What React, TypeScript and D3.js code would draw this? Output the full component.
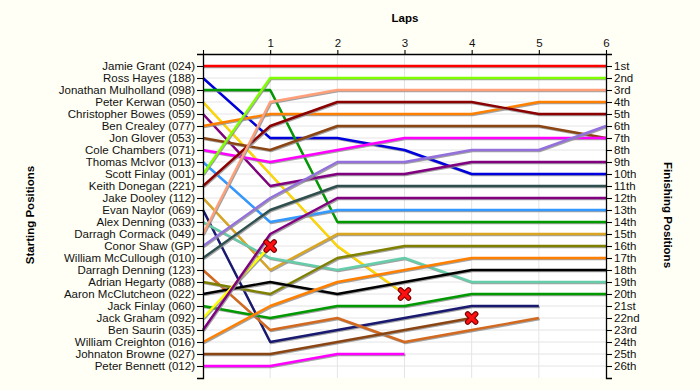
import React, { useEffect, useRef } from "react";
import * as d3 from "d3";

// lap chart: position of each driver at the end of each lap (lap 0 = grid)
const laps = [0, 1, 2, 3, 4, 5, 6];

const drivers = [
  "Jamie Grant (024)", "Ross Hayes (188)", "Jonathan Mulholland (098)", "Peter Kerwan (050)",
  "Christopher Bowes (059)", "Ben Crealey (077)", "Jon Glover (053)", "Cole Chambers (071)",
  "Thomas McIvor (013)", "Scott Finlay (001)", "Keith Donegan (221)", "Jake Dooley (112)",
  "Evan Naylor (069)", "Alex Denning (033)", "Darragh Cormack (049)", "Conor Shaw (GP)",
  "William McCullough (010)", "Darragh Denning (123)", "Adrian Hegarty (088)", "Aaron McClutcheon (022)",
  "Jack Finlay (060)", "Jack Graham (092)", "Ben Saurin (035)", "William Creighton (016)",
  "Johnaton Browne (027)", "Peter Bennett (012)",
];

const colors = [
  "#ff0000", "#0000dd", "#009900", "#ffd700",
  "#800080", "#ff8000", "#8b4513", "#ff00ff",
  "#3399ff", "#7fff00", "#8b0000", "#daa520",
  "#191970", "#66cdaa", "#ffa07a", "#9370db",
  "#2f4f4f", "#d2691e", "#808000", "#000000",
  "#009900", "#ffff00", "#800080", "#ff8000",
  "#8b4513", "#ff00ff",
];

const positions = [
  [1, 1, 1, 1, 1, 1, 1],
  [2, 7, 7, 8, 10, 10, 10],
  [3, 3, 14, 14, 14, 14, 14],
  [4, 10, 16, 20],
  [5, 11, 10, 10, 9, 9, 9],
  [6, 5, 5, 5, 5, 4, 4],
  [7, 8, 6, 6, 6, 6, 7],
  [8, 9, 8, 7, 7, 7, 7],
  [9, 14, 13, 13, 13, 13, 13],
  [10, 2, 2, 2, 2, 2, 2],
  [11, 6, 4, 4, 4, 5, 5],
  [12, 18, 15, 15, 15, 15, 15],
  [13, 24, 23, 22, 21, 21],
  [14, 17, 18, 17, 19, 19, 19],
  [15, 4, 3, 3, 3, 3, 3],
  [16, 12, 9, 9, 8, 8, 6],
  [17, 13, 11, 11, 11, 11, 11],
  [18, 23, 22, 24, 23, 22],
  [19, 20, 17, 16, 16, 16, 16],
  [20, 19, 20, 19, 18, 18, 18],
  [21, 22, 21, 21, 20, 20, 20],
  [22, 16],
  [23, 15, 12, 12, 12, 12, 12],
  [24, 21, 19, 18, 17, 17, 17],
  [25, 25, 24, 23, 22],
  [26, 26, 25, 25],
];

// drivers that retired (marked with a cross at their last lap)
const retired = ["Peter Kerwan (050)", "Jack Graham (092)", "Johnaton Browne (027)"];

const finishLabels = [
  "1st", "2nd", "3rd", "4th", "5th", "6th", "7th", "8th", "9th", "10th",
  "11th", "12th", "13th", "14th", "15th", "16th", "17th", "18th", "19th", "20th",
  "21st", "22nd", "23rd", "24th", "25th", "26th",
];

const W = 700;
const H = 390;
const font = "'Liberation Sans', Arial, sans-serif";

export default function App() {
  const topRef = useRef<SVGGElement>(null);
  const leftRef = useRef<SVGGElement>(null);
  const rightRef = useRef<SVGGElement>(null);

  const left = 203, right = 606, top = 54, bottom = 378;
  const x = d3.scaleLinear().domain([0, 6]).range([left, right]);
  const y = d3.scaleLinear().domain([0, 27]).range([top, bottom]);
  const ranks = d3.range(1, drivers.length + 1);

  const line = d3.line<number>()
    .x((d, i) => x(laps[i]))
    .y(d => y(d));

  useEffect(() => {
    const style = (g: d3.Selection<SVGGElement, unknown, null, undefined>) => {
      g.attr("font-family", font).attr("font-size", 11.5);
      g.selectAll("path.domain").attr("stroke", "#000").attr("stroke-width", 1.3);
      g.selectAll(".tick line").attr("stroke", "#000").attr("stroke-width", 1.1);
      g.selectAll(".tick text").attr("fill", "#111");
    };
    select(topRef.current!)
      .call(d3.axisTop(x).tickValues(laps).tickFormat(d => (d === 0 ? "" : String(d))).tickSize(4).tickSizeOuter(0))
      .call(style);
    select(leftRef.current!)
      .call(d3.axisLeft(y).tickValues(ranks).tickFormat(d => drivers[+d - 1]).tickSize(6).tickPadding(2))
      .call(style);
    select(rightRef.current!)
      .call(d3.axisRight(y).tickValues(ranks).tickFormat(d => finishLabels[+d - 1]).tickSize(6).tickPadding(2))
      .call(style);
  }, []);

  const cross = (cx: number, cy: number, key: string) => {
    const s = 4;
    const d = `M${cx - s},${cy - s}L${cx + s},${cy + s}M${cx - s},${cy + s}L${cx + s},${cy - s}`;
    return (
      <g key={key}>
        <path d={d} stroke="#7a0000" strokeWidth={5.5} strokeLinecap="round" />
        <path d={d} stroke="#ff1010" strokeWidth={3.2} strokeLinecap="round" />
      </g>
    );
  };

  return (
    <svg width={W} height={H} style={{ position: "fixed", left: 0, top: 0, background: "#fffff5" }}>
      <rect x={left} y={top} width={right - left} height={bottom - top} fill="#ffffff" />
      <g>
        {ranks.map(r => (
          <line key={"h" + r} x1={left} x2={right} y1={y(r)} y2={y(r)} stroke="#e4e4e4" strokeWidth={1} />
        ))}
        {laps.slice(1, -1).map(l => (
          <line key={"v" + l} x1={x(l)} x2={x(l)} y1={top} y2={bottom} stroke="#e4e4e4" strokeWidth={1} />
        ))}
      </g>
      <g fill="none" strokeLinejoin="round">
        {positions.map((p, i) => (
          <g key={drivers[i]}>
            <path d={line(p) ?? ""} stroke="#8c8c8c" strokeWidth={2} transform="translate(1,1.3)" opacity={0.8} />
            <path d={line(p) ?? ""} stroke={colors[i]} strokeWidth={2.4} />
          </g>
        ))}
      </g>
      <g>
        {positions.map((p, i) =>
          retired.includes(drivers[i]) ? cross(x(laps[p.length - 1]), y(p[p.length - 1]), "x" + i) : null
        )}
      </g>
      <g ref={topRef} transform={`translate(0,${top})`} />
      <g ref={leftRef} transform={`translate(${left},0)`} />
      <g ref={rightRef} transform={`translate(${right},0)`} />
      <text x={405} y={22} textAnchor="middle" fontFamily={font} fontSize={11.5} fontWeight="bold">Laps</text>
      <text transform="translate(34,215) rotate(-90)" textAnchor="middle" fontFamily={font} fontSize={11.5} fontWeight="bold">
        Starting Positions
      </text>
      <text transform="translate(664,215) rotate(90)" textAnchor="middle" fontFamily={font} fontSize={11.5} fontWeight="bold">
        Finishing Positions
      </text>
    </svg>
  );
}

const select = d3.select;
